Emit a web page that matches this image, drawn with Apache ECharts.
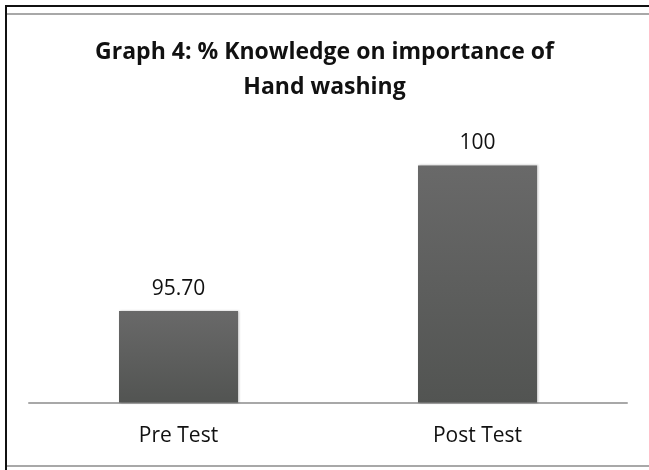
<!DOCTYPE html>
<html>
<head>
<meta charset="utf-8">
<script src="https://cdn.jsdelivr.net/npm/echarts@6/dist/echarts.min.js"></script>
<style>
html, body { margin: 0; padding: 0; background: #fff; }
#chart { width: 649px; height: 470px; }
</style>
</head>
<body>
<div id="chart"></div>
<script>
const categories = ['Pre Test', 'Post Test']
const values = [95.70, 100]
const valueLabels = ['95.70', '100']

const chart = echarts.init(document.getElementById('chart'))
chart.setOption({
	animation: false,
	title: {
		text: 'Graph 4: % Knowledge on importance of\nHand washing',
		left: 'center',
		top: 30,
		textStyle: {
			fontFamily: 'Open Sans',
			fontWeight: 'bold',
			fontSize: 23,
			lineHeight: 35,
			color: '#111'
		}
	},
	graphic: [
		// frame lines around the picture
		{ type: 'rect', shape: { x: 5, y: 5, width: 644, height: 2 }, style: { fill: '#111' } },
		{ type: 'rect', shape: { x: 7, y: 13, width: 642, height: 2 }, style: { fill: '#a8a8a8' } },
		{ type: 'rect', shape: { x: 5, y: 5, width: 2, height: 465 }, style: { fill: '#111' } },
		{ type: 'rect', shape: { x: 7, y: 465, width: 642, height: 2 }, style: { fill: '#a8a8a8' } }
	],
	grid: {
		left: 29,
		right: 22,
		top: 131.5,
		bottom: 67.5
	},
	xAxis: {
		type: 'category',
		data: categories,
		axisLine: {
			lineStyle: { color: '#a8a8a8', width: 2 }
		},
		axisTick: { show: false },
		axisLabel: {
			margin: 23,
			fontFamily: 'Open Sans',
			fontSize: 21,
			color: '#111'
		}
	},
	yAxis: {
		type: 'value',
		min: 93,
		max: 101,
		show: false,
		splitLine: { show: false }
	},
	series: [
		{
			type: 'bar',
			data: values,
			barWidth: 119,
			itemStyle: {
				color: new echarts.graphic.LinearGradient(0, 0, 0, 1, [
					{ offset: 0, color: '#696969' },
					{ offset: 1, color: '#525452' }
				]),
				shadowColor: 'rgba(0,0,0,0.25)',
				shadowBlur: 2,
				shadowOffsetX: 1
			},
			label: {
				show: true,
				position: 'top',
				distance: 12,
				fontFamily: 'Open Sans',
				fontSize: 21,
				color: '#111',
				formatter: p => valueLabels[p.dataIndex]
			}
		}
	]
})
</script>
</body>
</html>
